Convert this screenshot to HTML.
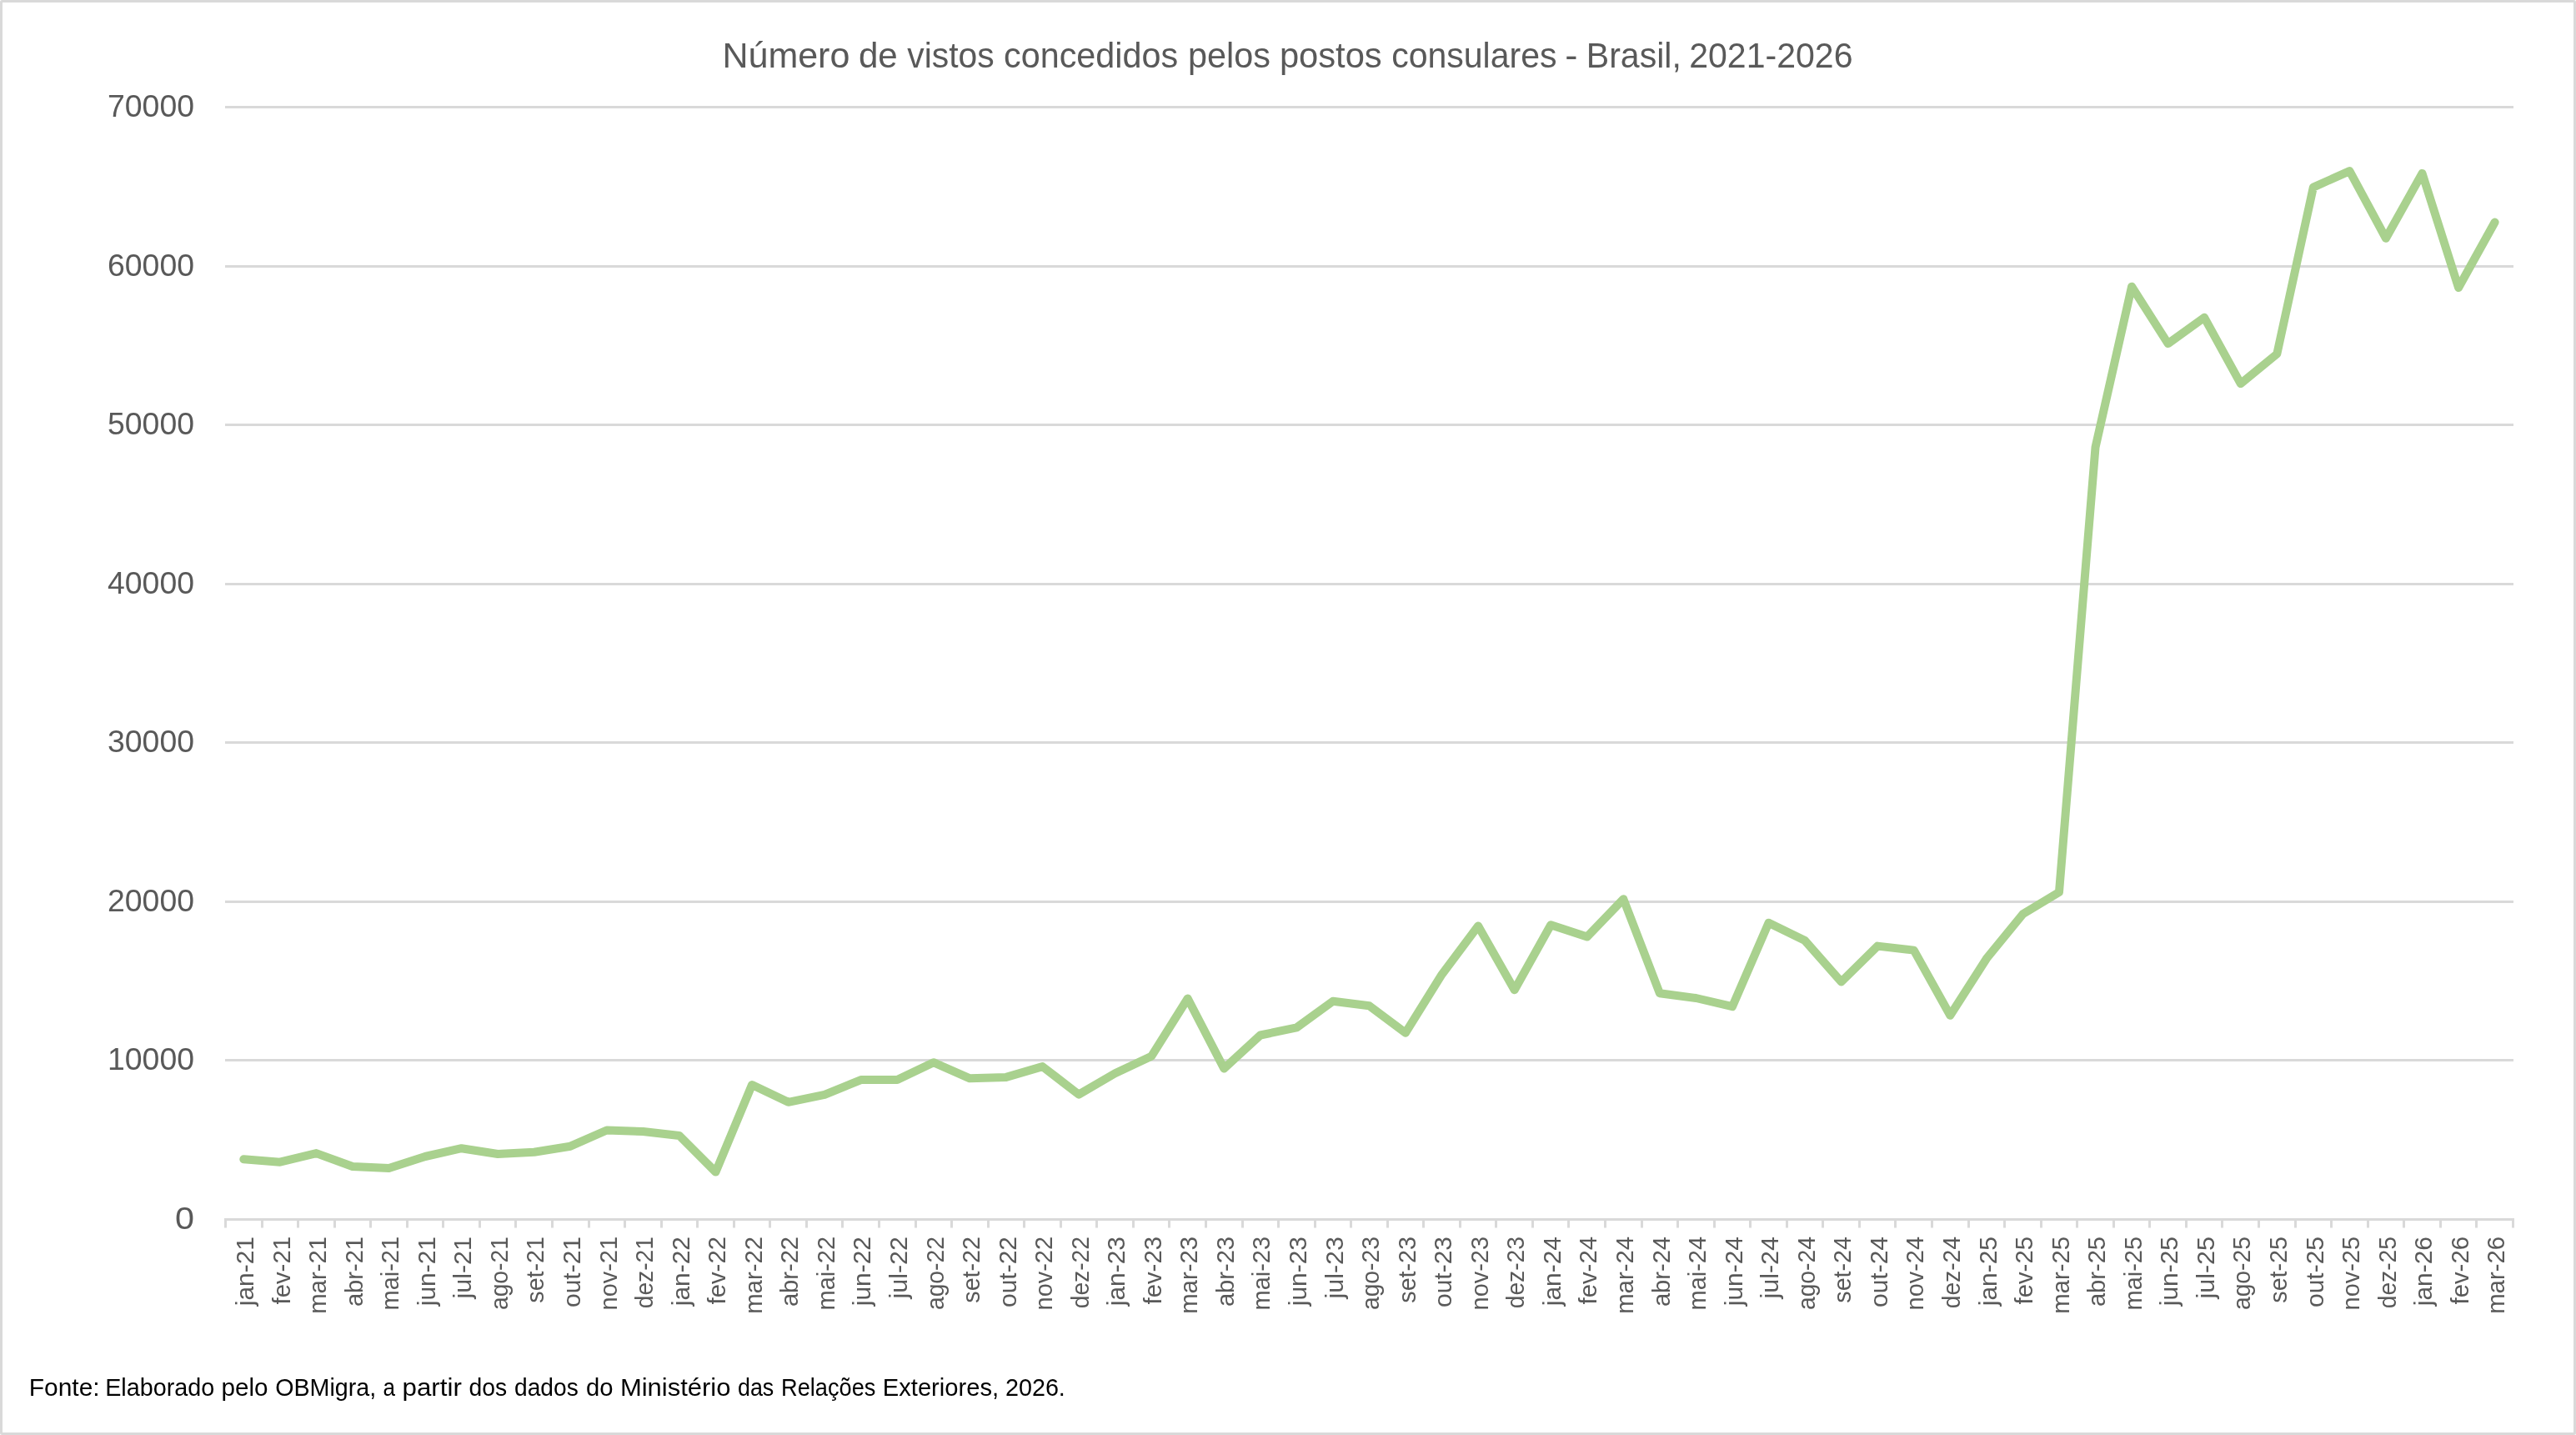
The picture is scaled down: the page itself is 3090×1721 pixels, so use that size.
<!DOCTYPE html><html><head><meta charset="utf-8"><style>html,body{margin:0;padding:0;background:#fff}svg{display:block;will-change:transform}text{font-family:"Liberation Sans",Arial,sans-serif}</style></head><body>
<svg width="3090" height="1721" viewBox="0 0 3090 1721">
<rect x="1.5" y="1.5" width="3087" height="1718" fill="#fff" stroke="#d9d9d9" stroke-width="3" rx="1"/>
<line x1="270" y1="1271.50" x2="3015" y2="1271.50" stroke="#d9d9d9" stroke-width="3"/>
<line x1="270" y1="1081.50" x2="3015" y2="1081.50" stroke="#d9d9d9" stroke-width="3"/>
<line x1="270" y1="890.50" x2="3015" y2="890.50" stroke="#d9d9d9" stroke-width="3"/>
<line x1="270" y1="700.50" x2="3015" y2="700.50" stroke="#d9d9d9" stroke-width="3"/>
<line x1="270" y1="509.50" x2="3015" y2="509.50" stroke="#d9d9d9" stroke-width="3"/>
<line x1="270" y1="319.50" x2="3015" y2="319.50" stroke="#d9d9d9" stroke-width="3"/>
<line x1="270" y1="128.50" x2="3015" y2="128.50" stroke="#d9d9d9" stroke-width="3"/>
<path d="M270 1462.50H3014" stroke="#d9d9d9" stroke-width="3" fill="none"/>
<path d="M270.5 1461.0V1472.5 M314.5 1461.0V1472.5 M357.5 1461.0V1472.5 M401.5 1461.0V1472.5 M444.5 1461.0V1472.5 M488.5 1461.0V1472.5 M531.5 1461.0V1472.5 M575.5 1461.0V1472.5 M618.5 1461.0V1472.5 M662.5 1461.0V1472.5 M706.5 1461.0V1472.5 M749.5 1461.0V1472.5 M793.5 1461.0V1472.5 M836.5 1461.0V1472.5 M880.5 1461.0V1472.5 M923.5 1461.0V1472.5 M967.5 1461.0V1472.5 M1010.5 1461.0V1472.5 M1054.5 1461.0V1472.5 M1098.5 1461.0V1472.5 M1141.5 1461.0V1472.5 M1185.5 1461.0V1472.5 M1228.5 1461.0V1472.5 M1272.5 1461.0V1472.5 M1315.5 1461.0V1472.5 M1359.5 1461.0V1472.5 M1402.5 1461.0V1472.5 M1446.5 1461.0V1472.5 M1490.5 1461.0V1472.5 M1533.5 1461.0V1472.5 M1577.5 1461.0V1472.5 M1620.5 1461.0V1472.5 M1664.5 1461.0V1472.5 M1707.5 1461.0V1472.5 M1751.5 1461.0V1472.5 M1794.5 1461.0V1472.5 M1838.5 1461.0V1472.5 M1881.5 1461.0V1472.5 M1925.5 1461.0V1472.5 M1969.5 1461.0V1472.5 M2012.5 1461.0V1472.5 M2056.5 1461.0V1472.5 M2099.5 1461.0V1472.5 M2143.5 1461.0V1472.5 M2186.5 1461.0V1472.5 M2230.5 1461.0V1472.5 M2273.5 1461.0V1472.5 M2317.5 1461.0V1472.5 M2361.5 1461.0V1472.5 M2404.5 1461.0V1472.5 M2448.5 1461.0V1472.5 M2491.5 1461.0V1472.5 M2535.5 1461.0V1472.5 M2578.5 1461.0V1472.5 M2622.5 1461.0V1472.5 M2665.5 1461.0V1472.5 M2709.5 1461.0V1472.5 M2753.5 1461.0V1472.5 M2796.5 1461.0V1472.5 M2840.5 1461.0V1472.5 M2883.5 1461.0V1472.5 M2927.5 1461.0V1472.5 M2970.5 1461.0V1472.5 M3014.5 1461.0V1472.5" stroke="#d9d9d9" stroke-width="3" fill="none"/>
<text x="233" y="1474.00" font-size="37" fill="#595959" text-anchor="end" textLength="23" lengthAdjust="spacingAndGlyphs">0</text>
<text x="233" y="1283.00" font-size="37" fill="#595959" text-anchor="end" textLength="104" lengthAdjust="spacingAndGlyphs">10000</text>
<text x="233" y="1093.00" font-size="37" fill="#595959" text-anchor="end" textLength="104" lengthAdjust="spacingAndGlyphs">20000</text>
<text x="233" y="902.00" font-size="37" fill="#595959" text-anchor="end" textLength="104" lengthAdjust="spacingAndGlyphs">30000</text>
<text x="233" y="712.00" font-size="37" fill="#595959" text-anchor="end" textLength="104" lengthAdjust="spacingAndGlyphs">40000</text>
<text x="233" y="521.00" font-size="37" fill="#595959" text-anchor="end" textLength="104" lengthAdjust="spacingAndGlyphs">50000</text>
<text x="233" y="331.00" font-size="37" fill="#595959" text-anchor="end" textLength="104" lengthAdjust="spacingAndGlyphs">60000</text>
<text x="233" y="140.00" font-size="37" fill="#595959" text-anchor="end" textLength="104" lengthAdjust="spacingAndGlyphs">70000</text>
<text transform="translate(303.98,1483) rotate(-90)" font-size="29" fill="#595959" text-anchor="end" textLength="83.2" lengthAdjust="spacingAndGlyphs">jan-21</text>
<text transform="translate(347.53,1483) rotate(-90)" font-size="29" fill="#595959" text-anchor="end" textLength="81.5" lengthAdjust="spacingAndGlyphs">fev-21</text>
<text transform="translate(391.08,1483) rotate(-90)" font-size="29" fill="#595959" text-anchor="end" textLength="92.8" lengthAdjust="spacingAndGlyphs">mar-21</text>
<text transform="translate(434.64,1483) rotate(-90)" font-size="29" fill="#595959" text-anchor="end" textLength="84.1" lengthAdjust="spacingAndGlyphs">abr-21</text>
<text transform="translate(478.19,1483) rotate(-90)" font-size="29" fill="#595959" text-anchor="end" textLength="88.4" lengthAdjust="spacingAndGlyphs">mai-21</text>
<text transform="translate(521.75,1483) rotate(-90)" font-size="29" fill="#595959" text-anchor="end" textLength="83.2" lengthAdjust="spacingAndGlyphs">jun-21</text>
<text transform="translate(565.30,1483) rotate(-90)" font-size="29" fill="#595959" text-anchor="end" textLength="74.5" lengthAdjust="spacingAndGlyphs">jul-21</text>
<text transform="translate(608.86,1483) rotate(-90)" font-size="29" fill="#595959" text-anchor="end" textLength="88.1" lengthAdjust="spacingAndGlyphs">ago-21</text>
<text transform="translate(652.41,1483) rotate(-90)" font-size="29" fill="#595959" text-anchor="end" textLength="79.7" lengthAdjust="spacingAndGlyphs">set-21</text>
<text transform="translate(695.96,1483) rotate(-90)" font-size="29" fill="#595959" text-anchor="end" textLength="85.0" lengthAdjust="spacingAndGlyphs">out-21</text>
<text transform="translate(739.52,1483) rotate(-90)" font-size="29" fill="#595959" text-anchor="end" textLength="88.4" lengthAdjust="spacingAndGlyphs">nov-21</text>
<text transform="translate(783.07,1483) rotate(-90)" font-size="29" fill="#595959" text-anchor="end" textLength="86.3" lengthAdjust="spacingAndGlyphs">dez-21</text>
<text transform="translate(826.63,1483) rotate(-90)" font-size="29" fill="#595959" text-anchor="end" textLength="83.2" lengthAdjust="spacingAndGlyphs">jan-22</text>
<text transform="translate(870.18,1483) rotate(-90)" font-size="29" fill="#595959" text-anchor="end" textLength="81.5" lengthAdjust="spacingAndGlyphs">fev-22</text>
<text transform="translate(913.73,1483) rotate(-90)" font-size="29" fill="#595959" text-anchor="end" textLength="92.8" lengthAdjust="spacingAndGlyphs">mar-22</text>
<text transform="translate(957.29,1483) rotate(-90)" font-size="29" fill="#595959" text-anchor="end" textLength="84.1" lengthAdjust="spacingAndGlyphs">abr-22</text>
<text transform="translate(1000.84,1483) rotate(-90)" font-size="29" fill="#595959" text-anchor="end" textLength="88.4" lengthAdjust="spacingAndGlyphs">mai-22</text>
<text transform="translate(1044.40,1483) rotate(-90)" font-size="29" fill="#595959" text-anchor="end" textLength="83.2" lengthAdjust="spacingAndGlyphs">jun-22</text>
<text transform="translate(1087.95,1483) rotate(-90)" font-size="29" fill="#595959" text-anchor="end" textLength="74.5" lengthAdjust="spacingAndGlyphs">jul-22</text>
<text transform="translate(1131.50,1483) rotate(-90)" font-size="29" fill="#595959" text-anchor="end" textLength="88.1" lengthAdjust="spacingAndGlyphs">ago-22</text>
<text transform="translate(1175.06,1483) rotate(-90)" font-size="29" fill="#595959" text-anchor="end" textLength="79.7" lengthAdjust="spacingAndGlyphs">set-22</text>
<text transform="translate(1218.61,1483) rotate(-90)" font-size="29" fill="#595959" text-anchor="end" textLength="85.0" lengthAdjust="spacingAndGlyphs">out-22</text>
<text transform="translate(1262.17,1483) rotate(-90)" font-size="29" fill="#595959" text-anchor="end" textLength="88.4" lengthAdjust="spacingAndGlyphs">nov-22</text>
<text transform="translate(1305.72,1483) rotate(-90)" font-size="29" fill="#595959" text-anchor="end" textLength="86.3" lengthAdjust="spacingAndGlyphs">dez-22</text>
<text transform="translate(1349.27,1483) rotate(-90)" font-size="29" fill="#595959" text-anchor="end" textLength="83.2" lengthAdjust="spacingAndGlyphs">jan-23</text>
<text transform="translate(1392.83,1483) rotate(-90)" font-size="29" fill="#595959" text-anchor="end" textLength="81.5" lengthAdjust="spacingAndGlyphs">fev-23</text>
<text transform="translate(1436.38,1483) rotate(-90)" font-size="29" fill="#595959" text-anchor="end" textLength="92.8" lengthAdjust="spacingAndGlyphs">mar-23</text>
<text transform="translate(1479.94,1483) rotate(-90)" font-size="29" fill="#595959" text-anchor="end" textLength="84.1" lengthAdjust="spacingAndGlyphs">abr-23</text>
<text transform="translate(1523.49,1483) rotate(-90)" font-size="29" fill="#595959" text-anchor="end" textLength="88.4" lengthAdjust="spacingAndGlyphs">mai-23</text>
<text transform="translate(1567.04,1483) rotate(-90)" font-size="29" fill="#595959" text-anchor="end" textLength="83.2" lengthAdjust="spacingAndGlyphs">jun-23</text>
<text transform="translate(1610.60,1483) rotate(-90)" font-size="29" fill="#595959" text-anchor="end" textLength="74.5" lengthAdjust="spacingAndGlyphs">jul-23</text>
<text transform="translate(1654.15,1483) rotate(-90)" font-size="29" fill="#595959" text-anchor="end" textLength="88.1" lengthAdjust="spacingAndGlyphs">ago-23</text>
<text transform="translate(1697.71,1483) rotate(-90)" font-size="29" fill="#595959" text-anchor="end" textLength="79.7" lengthAdjust="spacingAndGlyphs">set-23</text>
<text transform="translate(1741.26,1483) rotate(-90)" font-size="29" fill="#595959" text-anchor="end" textLength="85.0" lengthAdjust="spacingAndGlyphs">out-23</text>
<text transform="translate(1784.81,1483) rotate(-90)" font-size="29" fill="#595959" text-anchor="end" textLength="88.4" lengthAdjust="spacingAndGlyphs">nov-23</text>
<text transform="translate(1828.37,1483) rotate(-90)" font-size="29" fill="#595959" text-anchor="end" textLength="86.3" lengthAdjust="spacingAndGlyphs">dez-23</text>
<text transform="translate(1871.92,1483) rotate(-90)" font-size="29" fill="#595959" text-anchor="end" textLength="83.2" lengthAdjust="spacingAndGlyphs">jan-24</text>
<text transform="translate(1915.48,1483) rotate(-90)" font-size="29" fill="#595959" text-anchor="end" textLength="81.5" lengthAdjust="spacingAndGlyphs">fev-24</text>
<text transform="translate(1959.03,1483) rotate(-90)" font-size="29" fill="#595959" text-anchor="end" textLength="92.8" lengthAdjust="spacingAndGlyphs">mar-24</text>
<text transform="translate(2002.58,1483) rotate(-90)" font-size="29" fill="#595959" text-anchor="end" textLength="84.1" lengthAdjust="spacingAndGlyphs">abr-24</text>
<text transform="translate(2046.14,1483) rotate(-90)" font-size="29" fill="#595959" text-anchor="end" textLength="88.4" lengthAdjust="spacingAndGlyphs">mai-24</text>
<text transform="translate(2089.69,1483) rotate(-90)" font-size="29" fill="#595959" text-anchor="end" textLength="83.2" lengthAdjust="spacingAndGlyphs">jun-24</text>
<text transform="translate(2133.24,1483) rotate(-90)" font-size="29" fill="#595959" text-anchor="end" textLength="74.5" lengthAdjust="spacingAndGlyphs">jul-24</text>
<text transform="translate(2176.80,1483) rotate(-90)" font-size="29" fill="#595959" text-anchor="end" textLength="88.1" lengthAdjust="spacingAndGlyphs">ago-24</text>
<text transform="translate(2220.35,1483) rotate(-90)" font-size="29" fill="#595959" text-anchor="end" textLength="79.7" lengthAdjust="spacingAndGlyphs">set-24</text>
<text transform="translate(2263.91,1483) rotate(-90)" font-size="29" fill="#595959" text-anchor="end" textLength="85.0" lengthAdjust="spacingAndGlyphs">out-24</text>
<text transform="translate(2307.46,1483) rotate(-90)" font-size="29" fill="#595959" text-anchor="end" textLength="88.4" lengthAdjust="spacingAndGlyphs">nov-24</text>
<text transform="translate(2351.01,1483) rotate(-90)" font-size="29" fill="#595959" text-anchor="end" textLength="86.3" lengthAdjust="spacingAndGlyphs">dez-24</text>
<text transform="translate(2394.57,1483) rotate(-90)" font-size="29" fill="#595959" text-anchor="end" textLength="83.2" lengthAdjust="spacingAndGlyphs">jan-25</text>
<text transform="translate(2438.12,1483) rotate(-90)" font-size="29" fill="#595959" text-anchor="end" textLength="81.5" lengthAdjust="spacingAndGlyphs">fev-25</text>
<text transform="translate(2481.68,1483) rotate(-90)" font-size="29" fill="#595959" text-anchor="end" textLength="92.8" lengthAdjust="spacingAndGlyphs">mar-25</text>
<text transform="translate(2525.23,1483) rotate(-90)" font-size="29" fill="#595959" text-anchor="end" textLength="84.1" lengthAdjust="spacingAndGlyphs">abr-25</text>
<text transform="translate(2568.78,1483) rotate(-90)" font-size="29" fill="#595959" text-anchor="end" textLength="88.4" lengthAdjust="spacingAndGlyphs">mai-25</text>
<text transform="translate(2612.34,1483) rotate(-90)" font-size="29" fill="#595959" text-anchor="end" textLength="83.2" lengthAdjust="spacingAndGlyphs">jun-25</text>
<text transform="translate(2655.89,1483) rotate(-90)" font-size="29" fill="#595959" text-anchor="end" textLength="74.5" lengthAdjust="spacingAndGlyphs">jul-25</text>
<text transform="translate(2699.45,1483) rotate(-90)" font-size="29" fill="#595959" text-anchor="end" textLength="88.1" lengthAdjust="spacingAndGlyphs">ago-25</text>
<text transform="translate(2743.00,1483) rotate(-90)" font-size="29" fill="#595959" text-anchor="end" textLength="79.7" lengthAdjust="spacingAndGlyphs">set-25</text>
<text transform="translate(2786.55,1483) rotate(-90)" font-size="29" fill="#595959" text-anchor="end" textLength="85.0" lengthAdjust="spacingAndGlyphs">out-25</text>
<text transform="translate(2830.11,1483) rotate(-90)" font-size="29" fill="#595959" text-anchor="end" textLength="88.4" lengthAdjust="spacingAndGlyphs">nov-25</text>
<text transform="translate(2873.66,1483) rotate(-90)" font-size="29" fill="#595959" text-anchor="end" textLength="86.3" lengthAdjust="spacingAndGlyphs">dez-25</text>
<text transform="translate(2917.22,1483) rotate(-90)" font-size="29" fill="#595959" text-anchor="end" textLength="83.2" lengthAdjust="spacingAndGlyphs">jan-26</text>
<text transform="translate(2960.77,1483) rotate(-90)" font-size="29" fill="#595959" text-anchor="end" textLength="81.5" lengthAdjust="spacingAndGlyphs">fev-26</text>
<text transform="translate(3004.32,1483) rotate(-90)" font-size="29" fill="#595959" text-anchor="end" textLength="92.8" lengthAdjust="spacingAndGlyphs">mar-26</text>
<polyline points="292.28,1390.30 335.83,1393.70 379.38,1383.10 422.94,1399.00 466.49,1400.90 510.05,1387.00 553.60,1377.20 597.15,1384.00 640.71,1381.70 684.26,1374.70 727.82,1355.50 771.37,1357.00 814.93,1362.00 858.48,1405.60 902.03,1301.00 945.59,1321.80 989.14,1312.90 1032.70,1295.10 1076.25,1295.10 1119.80,1274.20 1163.36,1293.30 1206.91,1291.90 1250.47,1279.10 1294.02,1312.60 1337.57,1287.30 1381.13,1266.80 1424.68,1197.50 1468.24,1281.50 1511.79,1241.50 1555.34,1232.40 1598.90,1200.70 1642.45,1206.30 1686.01,1238.70 1729.56,1168.70 1773.11,1110.50 1816.67,1187.20 1860.22,1109.30 1903.78,1123.50 1947.33,1078.20 1990.88,1191.20 2034.44,1197.00 2077.99,1207.20 2121.55,1106.70 2165.10,1128.10 2208.65,1177.50 2252.21,1134.60 2295.76,1139.60 2339.32,1217.80 2382.87,1149.70 2426.42,1096.30 2469.98,1070.00 2513.53,536.40 2557.09,343.70 2600.64,412.10 2644.19,380.80 2687.75,460.10 2731.30,424.50 2774.86,224.60 2818.41,205.10 2861.96,285.80 2905.52,207.90 2949.07,345.00 2992.62,266.50" fill="none" stroke="#a9d18e" stroke-width="10" stroke-linejoin="round" stroke-linecap="round"/>
<g font-size="42.3" fill="#595959"><text x="866.45" y="80.5" textLength="152.91" lengthAdjust="spacingAndGlyphs">Número</text><text x="1029.91" y="80.5" textLength="46.84" lengthAdjust="spacingAndGlyphs">de</text><text x="1088.3" y="80.5" textLength="104.29" lengthAdjust="spacingAndGlyphs">vistos</text><text x="1204.05" y="80.5" textLength="209.02" lengthAdjust="spacingAndGlyphs">concedidos</text><text x="1425.06" y="80.5" textLength="98.94" lengthAdjust="spacingAndGlyphs">pelos</text><text x="1534.95" y="80.5" textLength="122.76" lengthAdjust="spacingAndGlyphs">postos</text><text x="1669.16" y="80.5" textLength="198.34" lengthAdjust="spacingAndGlyphs">consulares</text><text x="1877.24" y="80.5" textLength="15.22" lengthAdjust="spacingAndGlyphs">-</text><text x="1902.79" y="80.5" textLength="114.02" lengthAdjust="spacingAndGlyphs">Brasil,</text><text x="2026.16" y="80.5" textLength="196.39" lengthAdjust="spacingAndGlyphs">2021-2026</text></g>
<g font-size="29.5" fill="#000"><text x="34.77" y="1673.6" textLength="84.91" lengthAdjust="spacingAndGlyphs">Fonte:</text><text x="126.15" y="1673.6" textLength="131.11" lengthAdjust="spacingAndGlyphs">Elaborado</text><text x="265.49" y="1673.6" textLength="56.1" lengthAdjust="spacingAndGlyphs">pelo</text><text x="330.13" y="1673.6" textLength="120.99" lengthAdjust="spacingAndGlyphs">OBMigra,</text><text x="459.6" y="1673.6" textLength="14.46" lengthAdjust="spacingAndGlyphs">a</text><text x="482.48" y="1673.6" textLength="71.36" lengthAdjust="spacingAndGlyphs">partir</text><text x="562.54" y="1673.6" textLength="45.61" lengthAdjust="spacingAndGlyphs">dos</text><text x="617.05" y="1673.6" textLength="76.73" lengthAdjust="spacingAndGlyphs">dados</text><text x="703.11" y="1673.6" textLength="32.51" lengthAdjust="spacingAndGlyphs">do</text><text x="743.9" y="1673.6" textLength="132.6" lengthAdjust="spacingAndGlyphs">Ministério</text><text x="884.99" y="1673.6" textLength="43.34" lengthAdjust="spacingAndGlyphs">das</text><text x="937.06" y="1673.6" textLength="113.35" lengthAdjust="spacingAndGlyphs">Relações</text><text x="1058.72" y="1673.6" textLength="139.46" lengthAdjust="spacingAndGlyphs">Exteriores,</text><text x="1205.93" y="1673.6" textLength="71.93" lengthAdjust="spacingAndGlyphs">2026.</text></g>
</svg></body></html>
